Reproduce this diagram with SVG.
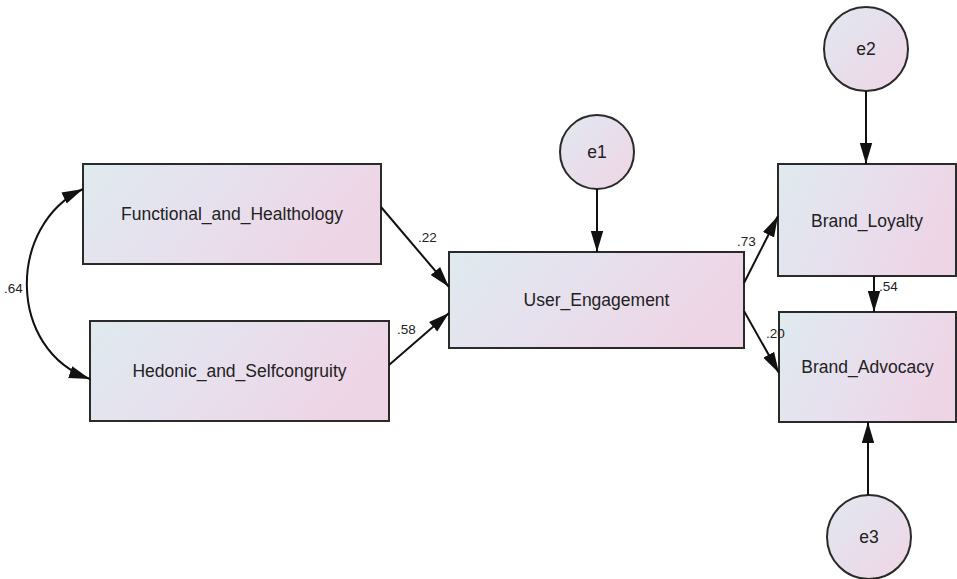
<svg xmlns="http://www.w3.org/2000/svg" width="957" height="579" viewBox="0 0 957 579">
<defs>
<linearGradient id="gb" x1="0" y1="0" x2="1" y2="0.3">
<stop offset="0" stop-color="#dfeaee"/>
<stop offset="0.45" stop-color="#e6e1ee"/>
<stop offset="1" stop-color="#eed5e6"/>
</linearGradient>
<linearGradient id="gc" x1="0" y1="0" x2="1" y2="1">
<stop offset="0" stop-color="#e0e8f0"/>
<stop offset="1" stop-color="#f0d5e6"/>
</linearGradient>
<marker id="ah" markerUnits="userSpaceOnUse" markerWidth="22" markerHeight="14" refX="21" refY="7" orient="auto-start-reverse" viewBox="0 0 22 14">
<path d="M0,0.8 L21,7 L0,13.2 z" fill="#111"/>
</marker>
</defs>
<style>
.box{fill:url(#gb);stroke:#2a2a2a;stroke-width:2}
.err{fill:url(#gc);stroke:#2a2a2a;stroke-width:2}
.lbl{font-family:"Liberation Sans",Arial,sans-serif;font-size:17.5px;fill:#222;text-anchor:middle;dominant-baseline:central}
.coef{font-family:"Liberation Sans",Arial,sans-serif;font-size:13.5px;fill:#222}
.edge{fill:none;stroke:#111;stroke-width:2;marker-end:url(#ah)}
</style>
<g id="functional">
<rect class="box" x="83" y="164" width="298" height="100"/>
<text class="lbl" x="232" y="214">Functional_and_Healthology</text>
</g>
<g id="hedonic">
<rect class="box" x="90" y="321" width="299" height="100"/>
<text class="lbl" x="239.5" y="371">Hedonic_and_Selfcongruity</text>
</g>
<g id="user_engagement">
<rect class="box" x="449" y="252" width="295" height="96"/>
<text class="lbl" x="596.5" y="300">User_Engagement</text>
</g>
<g id="brand_loyalty">
<rect class="box" x="778" y="164" width="178" height="112"/>
<text class="lbl" x="867" y="221">Brand_Loyalty</text>
</g>
<g id="brand_advocacy">
<rect class="box" x="779" y="312" width="177" height="110"/>
<text class="lbl" x="867.5" y="367">Brand_Advocacy</text>
</g>
<g id="e1">
<circle class="err" cx="597" cy="152" r="37"/>
<text class="lbl" x="597" y="152">e1</text>
</g>
<g id="e2">
<circle class="err" cx="866" cy="49" r="42"/>
<text class="lbl" x="866" y="49">e2</text>
</g>
<g id="e3">
<circle class="err" cx="869" cy="537" r="42"/>
<text class="lbl" x="869" y="537">e3</text>
</g>
<g id="connectors">
<path class="edge" d="M83,189 C7,225 7,350 90,379" marker-start="url(#ah)"/>
<line class="edge" x1="381" y1="207" x2="449" y2="287"/>
<line class="edge" x1="389" y1="365" x2="449" y2="313"/>
<line class="edge" x1="597" y1="189" x2="597" y2="252"/>
<line class="edge" x1="744" y1="283" x2="778" y2="216"/>
<line class="edge" x1="744" y1="311" x2="779" y2="373"/>
<line class="edge" x1="866" y1="91" x2="866" y2="164"/>
<line class="edge" x1="874" y1="276" x2="874" y2="312"/>
<line class="edge" x1="868" y1="495" x2="868" y2="422"/>
<text class="coef" x="4" y="293">.64</text>
<text class="coef" x="418" y="242">.22</text>
<text class="coef" x="397" y="334">.58</text>
<text class="coef" x="737" y="246">.73</text>
<text class="coef" x="766" y="338">.20</text>
<text class="coef" x="879" y="291">.54</text>
</g>
</svg>
